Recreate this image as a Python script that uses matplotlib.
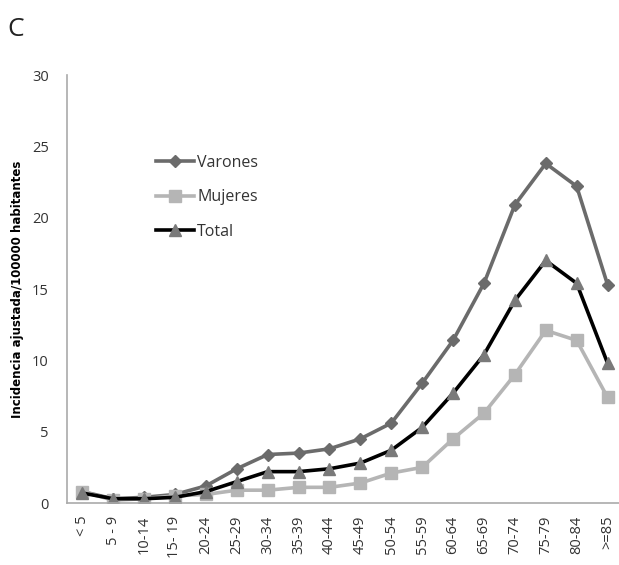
import matplotlib.pyplot as plt
import numpy as np

grupos = ['< 5', '5 - 9', '10-14', '15- 19', '20-24', '25-29', '30-34', '35-39', '40-44',
          '45-49', '50-54', '55-59', '60-64', '65-69', '70-74', '75-79', '80-84', '>=85']
varones = [0.8, 0.3, 0.4, 0.6, 1.2, 2.4, 3.4, 3.5, 3.8, 4.5, 5.6, 8.4, 11.4, 15.4, 20.9, 23.8, 22.2, 15.3]
mujeres = [0.8, 0.2, 0.3, 0.5, 0.6, 0.9, 0.9, 1.1, 1.1, 1.4, 2.1, 2.5, 4.5, 6.3, 9.0, 12.1, 11.4, 7.4]
total = [0.7, 0.3, 0.3, 0.4, 0.8, 1.5, 2.2, 2.2, 2.4, 2.8, 3.7, 5.3, 7.7, 10.4, 14.2, 17.0, 15.4, 9.8]

plt.rcParams['font.family'] = ['Open Sans', 'DejaVu Sans']

fig = plt.figure(figsize=(6.19, 5.65), dpi=100)
ax = fig.add_axes([0.108, 0.1097, 0.892, 0.7575])

x = np.arange(len(grupos))
ax.plot(x, varones, color='#6b6b6b', lw=2.6, marker='D', ms=6.5, label='Varones')
ax.plot(x, mujeres, color='#b5b5b5', lw=2.6, marker='s', ms=8, label='Mujeres')
ax.plot(x, total, color='#000000', lw=2.6, marker='^', ms=8.5,
        mfc='#7a7a7a', mec='#7a7a7a', label='Total')

ax.set_xlim(-0.5, 17.37)
ax.set_ylim(0, 30)
ax.set_yticks([0, 5, 10, 15, 20, 25, 30])
ax.set_xticks(x)
ax.set_xticklabels(grupos, rotation=90, fontsize=10.5, color='#333333')
ax.tick_params(axis='y', length=0, labelsize=10.5, labelcolor='#333333', pad=13)
ax.tick_params(axis='x', length=0, pad=9)

for s in ['top', 'right']:
    ax.spines[s].set_visible(False)
for s in ['left', 'bottom']:
    ax.spines[s].set_color('#aaaaaa')
    ax.spines[s].set_linewidth(1.2)

ax.set_ylabel('Incidencia ajustada/100000 habitantes', fontsize=8.5, fontweight='bold',
              family='DejaVu Sans', labelpad=6)

ax.legend(loc='upper left', bbox_to_anchor=(0.135, 0.847), frameon=False, fontsize=11.5,
          handlelength=2.4, handletextpad=0.2, labelspacing=1.15, labelcolor='#333333')

fig.text(0.012, 0.937, 'C', fontsize=19, color='#222222')

plt.savefig('out.png', dpi=100)
